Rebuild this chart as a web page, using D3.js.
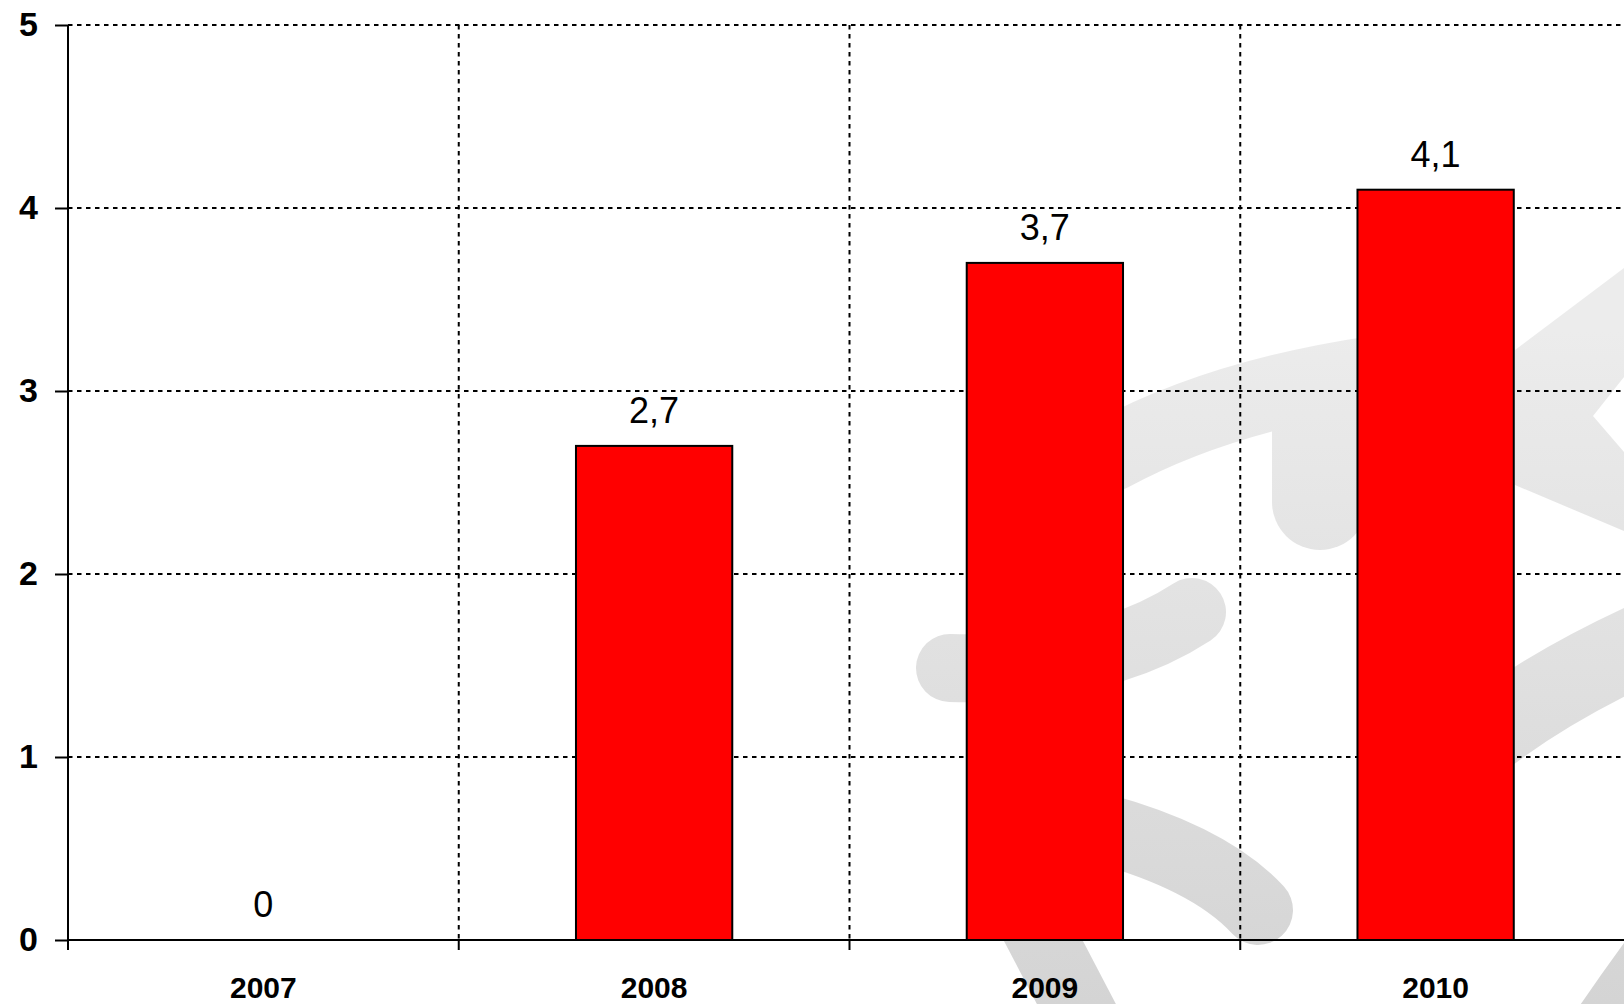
<!DOCTYPE html>
<html>
<head>
<meta charset="utf-8">
<script src="https://cdn.jsdelivr.net/npm/d3@7"></script>
<style>
  html, body { margin: 0; padding: 0; background: #ffffff; overflow: hidden; }
  svg { display: block; }
</style>
</head>
<body>
<svg id="chart" width="1624" height="1004"></svg>
<script>
// ---- data ----
const years = ["2007", "2008", "2009", "2010"];
const values = [0, 2.7, 3.7, 4.1];
const yTicks = [0, 1, 2, 3, 4, 5];

// ---- layout ----
const plotLeft = 68, plotRight = 1631, plotTop = 25, plotBottom = 940;

const svg = d3.select("#chart");

const x = d3.scaleBand().domain(years).range([plotLeft, plotRight]).paddingInner(0).paddingOuter(0);
const y = d3.scaleLinear().domain([0, 5]).range([plotBottom, plotTop]);

// ---- decorative watermark (background logo) ----
const defs = svg.append("defs");
const grad = defs.append("linearGradient")
  .attr("id", "wm").attr("gradientUnits", "userSpaceOnUse")
  .attr("x1", 0).attr("y1", 330).attr("x2", 0).attr("y2", 1004);
grad.append("stop").attr("offset", "0%").attr("stop-color", "#ececec");
grad.append("stop").attr("offset", "100%").attr("stop-color", "#d4d4d4");

const wmStrokes = [
  { d: "M1110,455 Q1220,395 1380,372", w: 74 },
  { d: "M1320,430 L1320,502", w: 96 },
  { d: "M950,668 Q1100,672 1192,612", w: 68 },
  { d: "M1100,828 Q1210,858 1258,910", w: 70 },
  { d: "M1022,900 L1090,1030", w: 70 },
  { d: "M1470,748 Q1540,690 1650,640", w: 80 },
  { d: "M1690,915 Q1640,980 1600,1040", w: 72 }
];
const wm = svg.append("g").attr("class", "watermark");
wm.selectAll("path.s").data(wmStrokes).join("path")
  .attr("class", "s")
  .attr("d", d => d.d)
  .attr("fill", "none")
  .attr("stroke", "url(#wm)")
  .attr("stroke-width", d => d.w)
  .attr("stroke-linecap", "round");
wm.append("path")
  .attr("d", "M1515,350 L1624,268 L1624,377 L1593,416 L1624,452 L1624,531 L1515,485 Z")
  .attr("fill", "url(#wm)");

// ---- gridlines ----
const grid = svg.append("g").attr("class", "grid");
grid.selectAll("line.h").data(yTicks.filter(t => t > 0)).join("line")
  .attr("class", "h")
  .attr("x1", plotLeft).attr("x2", plotRight)
  .attr("y1", d => y(d)).attr("y2", d => y(d))
  .attr("stroke", "#000").attr("stroke-width", 2)
  .attr("stroke-dasharray", "4.5,4.5");
grid.selectAll("line.v").data(years.slice(1)).join("line")
  .attr("class", "v")
  .attr("x1", d => x(d)).attr("x2", d => x(d))
  .attr("y1", plotTop).attr("y2", plotBottom)
  .attr("stroke", "#000").attr("stroke-width", 2)
  .attr("stroke-dasharray", "4.5,4.5");

// ---- bars ----
const bw = x.bandwidth() * 0.4;
const rows = years.map((k, i) => ({ k, v: values[i] }));
svg.append("g").selectAll("rect").data(rows.filter(d => d.v > 0))
  .join("rect")
  .attr("x", d => x(d.k) + x.bandwidth() / 2 - bw / 2)
  .attr("y", d => y(d.v))
  .attr("width", bw)
  .attr("height", d => y(0) - y(d.v))
  .attr("fill", "#ff0000")
  .attr("stroke", "#000")
  .attr("stroke-width", 2);

// ---- axes ----
const yAxis = d3.axisLeft(y).tickValues(yTicks).tickSize(13).tickPadding(17).tickFormat(d3.format("d"));
const gy = svg.append("g").attr("transform", `translate(${plotLeft},0)`).call(yAxis);
gy.select(".domain").remove();
gy.selectAll(".tick line").attr("stroke", "#000").attr("stroke-width", 2);
gy.selectAll(".tick text")
  .attr("font-family", "'Liberation Sans', Arial, sans-serif")
  .attr("font-weight", "bold").attr("font-size", 34).attr("fill", "#000");
svg.append("line").attr("x1", plotLeft).attr("x2", plotLeft).attr("y1", plotTop).attr("y2", plotBottom + 10)
  .attr("stroke", "#000").attr("stroke-width", 2);

const xAxis = d3.axisBottom(x).tickSize(0).tickPadding(0);
const gx = svg.append("g").attr("transform", `translate(0,${plotBottom})`).call(xAxis);
gx.select(".domain").remove();
gx.selectAll(".tick text")
  .attr("y", 58).attr("dy", null)
  .attr("font-family", "'Liberation Sans', Arial, sans-serif")
  .attr("font-weight", "bold").attr("font-size", 30).attr("fill", "#000");
svg.append("line").attr("x1", plotLeft).attr("x2", plotRight).attr("y1", plotBottom).attr("y2", plotBottom)
  .attr("stroke", "#000").attr("stroke-width", 2);
svg.append("g").selectAll("line").data(years.slice(1)).join("line")
  .attr("x1", d => x(d)).attr("x2", d => x(d))
  .attr("y1", plotBottom).attr("y2", plotBottom + 10)
  .attr("stroke", "#000").attr("stroke-width", 2);

// ---- value labels ----
const fmt = v => String(v).replace(".", ",");
svg.append("g").selectAll("text").data(rows)
  .join("text")
  .attr("x", d => x(d.k) + x.bandwidth() / 2)
  .attr("y", d => y(d.v) - 23)
  .attr("text-anchor", "middle")
  .attr("font-family", "'Liberation Sans', Arial, sans-serif")
  .attr("font-size", 36)
  .attr("fill", "#000")
  .text(d => fmt(d.v));
</script>
</body>
</html>
